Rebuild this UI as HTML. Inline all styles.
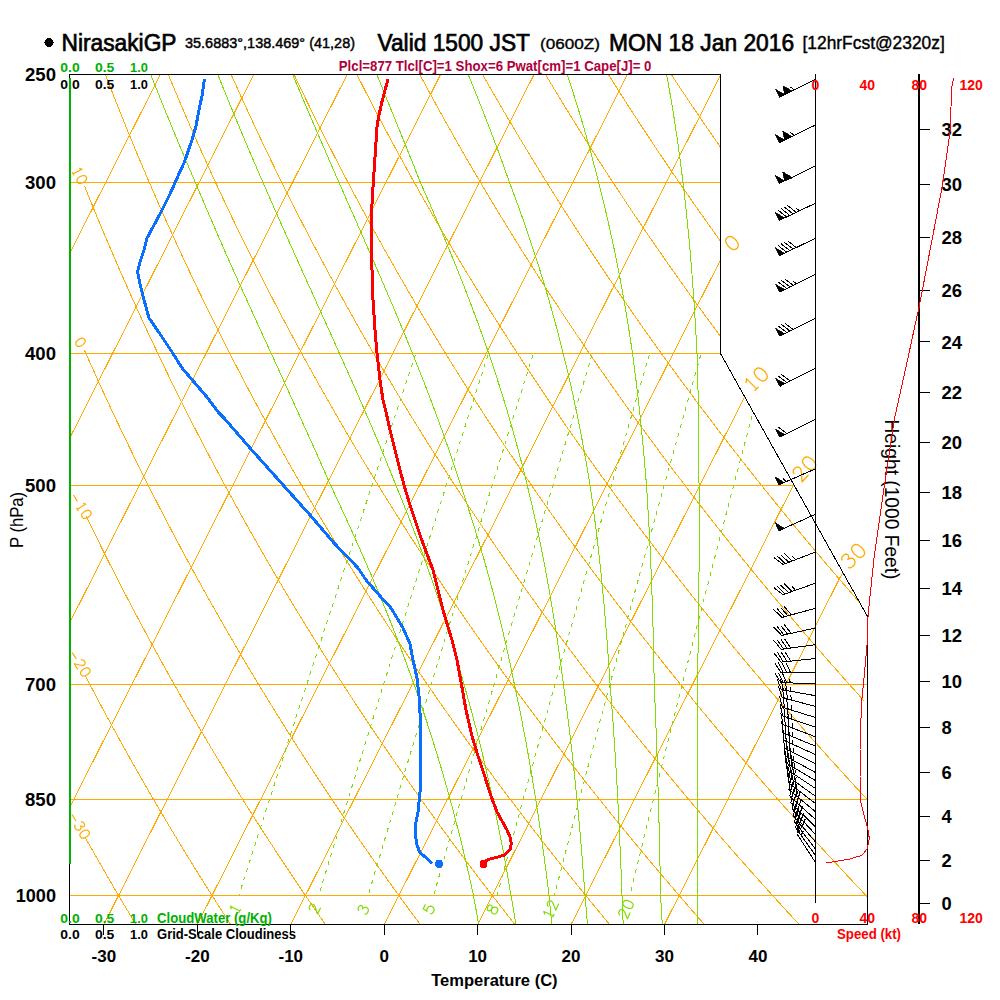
<!DOCTYPE html>
<html><head><meta charset="utf-8"><style>
html,body{margin:0;padding:0;background:#fff;}
svg{display:block;} path,circle{shape-rendering:crispEdges;}
text{font-family:"Liberation Sans",sans-serif;}
</style></head><body>
<svg width="1000" height="1000" viewBox="0 0 1000 1000">
<rect width="1000" height="1000" fill="#fff"/>
<defs><clipPath id="cp"><path d="M69.5 74.5 L720.5 74.5 L720.5 353.5 L867.5 616.5 L867.5 924.5 L69.5 924.5 Z"/></clipPath></defs>
<g clip-path="url(#cp)" fill="none" stroke-width="1">
<path d="M69.5 182.5 H900" stroke="#ffaa00"/>
<path d="M69.5 353.5 H900" stroke="#ffaa00"/>
<path d="M69.5 485.5 H900" stroke="#ffaa00"/>
<path d="M69.5 684.5 H900" stroke="#ffaa00"/>
<path d="M69.5 799.5 H900" stroke="#ffaa00"/>
<path d="M69.5 895.5 H900" stroke="#ffaa00"/>
<path d="M-736.96 924.5 L-306.86 74.5" stroke="#ffaa00"/>
<path d="M-643.53 924.5 L-213.43 74.5" stroke="#ffaa00"/>
<path d="M-550.1 924.5 L-120 74.5" stroke="#ffaa00"/>
<path d="M-456.67 924.5 L-26.57 74.5" stroke="#ffaa00"/>
<path d="M-363.24 924.5 L66.86 74.5" stroke="#ffaa00"/>
<path d="M-269.81 924.5 L160.29 74.5" stroke="#ffaa00"/>
<path d="M-176.38 924.5 L253.72 74.5" stroke="#ffaa00"/>
<path d="M-82.95 924.5 L347.15 74.5" stroke="#ffaa00"/>
<path d="M10.48 924.5 L440.58 74.5" stroke="#ffaa00"/>
<path d="M103.91 924.5 L534.01 74.5" stroke="#ffaa00"/>
<path d="M197.34 924.5 L627.44 74.5" stroke="#ffaa00"/>
<path d="M290.77 924.5 L720.87 74.5" stroke="#ffaa00"/>
<path d="M384.2 924.5 L814.3 74.5" stroke="#ffaa00"/>
<path d="M477.63 924.5 L907.73 74.5" stroke="#ffaa00"/>
<path d="M571.06 924.5 L1001.16 74.5" stroke="#ffaa00"/>
<path d="M664.49 924.5 L1094.59 74.5" stroke="#ffaa00"/>
<path d="M-148.32 924.5 L-155.02 910.09 L-161.62 895.69 L-168.13 881.28 L-174.54 866.87 L-180.85 852.47 L-187.07 838.06 L-193.2 823.65 L-199.23 809.25 L-205.17 794.84 L-211.02 780.43 L-216.78 766.03 L-222.45 751.62 L-228.03 737.21 L-233.52 722.81 L-238.92 708.4 L-244.23 693.99 L-249.46 679.58 L-254.6 665.18 L-259.65 650.77 L-264.62 636.36 L-269.5 621.96 L-274.3 607.55 L-279.01 593.14 L-283.64 578.74 L-288.19 564.33 L-292.66 549.92 L-297.04 535.52 L-301.35 521.11 L-305.57 506.7 L-309.72 492.3 L-313.78 477.89 L-317.77 463.48 L-321.68 449.08 L-325.51 434.67 L-329.26 420.26 L-332.94 405.86 L-336.54 391.45 L-340.07 377.04 L-343.52 362.64 L-346.9 348.23 L-350.2 333.82 L-353.43 319.42 L-356.59 305.01 L-359.67 290.6 L-362.68 276.19 L-365.62 261.79 L-368.49 247.38 L-371.29 232.97 L-374.02 218.57 L-376.68 204.16 L-379.28 189.75 L-381.8 175.35 L-384.25 160.94 L-386.64 146.53 L-388.96 132.13 L-391.22 117.72 L-393.4 103.31 L-395.53 88.91 L-397.58 74.5" stroke="#ffaa00"/>
<path d="M-53.58 924.5 L-60.93 910.09 L-68.18 895.69 L-75.33 881.28 L-82.39 866.87 L-89.34 852.47 L-96.19 838.06 L-102.95 823.65 L-109.61 809.25 L-116.17 794.84 L-122.64 780.43 L-129.01 766.03 L-135.28 751.62 L-141.47 737.21 L-147.56 722.81 L-153.55 708.4 L-159.46 693.99 L-165.27 679.58 L-170.99 665.18 L-176.62 650.77 L-182.17 636.36 L-187.62 621.96 L-192.98 607.55 L-198.26 593.14 L-203.45 578.74 L-208.56 564.33 L-213.58 549.92 L-218.51 535.52 L-223.36 521.11 L-228.12 506.7 L-232.8 492.3 L-237.4 477.89 L-241.92 463.48 L-246.35 449.08 L-250.7 434.67 L-254.98 420.26 L-259.17 405.86 L-263.28 391.45 L-267.31 377.04 L-271.27 362.64 L-275.15 348.23 L-278.95 333.82 L-282.67 319.42 L-286.32 305.01 L-289.89 290.6 L-293.38 276.19 L-296.8 261.79 L-300.15 247.38 L-303.42 232.97 L-306.62 218.57 L-309.75 204.16 L-312.81 189.75 L-315.79 175.35 L-318.7 160.94 L-321.54 146.53 L-324.32 132.13 L-327.02 117.72 L-329.65 103.31 L-332.21 88.91 L-334.71 74.5" stroke="#ffaa00"/>
<path d="M41.17 924.5 L33.16 910.09 L25.26 895.69 L17.46 881.28 L9.76 866.87 L2.17 852.47 L-5.32 838.06 L-12.7 823.65 L-19.99 809.25 L-27.17 794.84 L-34.25 780.43 L-41.23 766.03 L-48.12 751.62 L-54.91 737.21 L-61.59 722.81 L-68.19 708.4 L-74.68 693.99 L-81.08 679.58 L-87.39 665.18 L-93.6 650.77 L-99.72 636.36 L-105.74 621.96 L-111.67 607.55 L-117.51 593.14 L-123.26 578.74 L-128.92 564.33 L-134.49 549.92 L-139.97 535.52 L-145.37 521.11 L-150.67 506.7 L-155.89 492.3 L-161.02 477.89 L-166.06 463.48 L-171.02 449.08 L-175.9 434.67 L-180.69 420.26 L-185.39 405.86 L-190.02 391.45 L-194.56 377.04 L-199.02 362.64 L-203.4 348.23 L-207.69 333.82 L-211.91 319.42 L-216.05 305.01 L-220.1 290.6 L-224.08 276.19 L-227.98 261.79 L-231.81 247.38 L-235.55 232.97 L-239.22 218.57 L-242.82 204.16 L-246.34 189.75 L-249.78 175.35 L-253.15 160.94 L-256.45 146.53 L-259.67 132.13 L-262.82 117.72 L-265.9 103.31 L-268.9 88.91 L-271.84 74.5" stroke="#ffaa00"/>
<path d="M135.92 924.5 L127.25 910.09 L118.69 895.69 L110.25 881.28 L101.91 866.87 L93.68 852.47 L85.56 838.06 L85.25 837.5" stroke="#ffaa00"/>
<path d="M230.66 924.5 L221.34 910.09 L212.13 895.69 L203.04 881.28 L194.06 866.87 L185.19 852.47 L176.44 838.06 L167.79 823.65 L159.26 809.25 L150.83 794.84 L142.52 780.43 L134.31 766.03 L126.21 751.62 L118.22 737.21 L110.33 722.81 L102.55 708.4 L94.87 693.99 L87.29 679.58 L85.16 675.5" stroke="#ffaa00"/>
<path d="M325.41 924.5 L315.43 910.09 L305.57 895.69 L295.83 881.28 L286.21 866.87 L276.7 852.47 L267.31 838.06 L258.04 823.65 L248.88 809.25 L239.83 794.84 L230.9 780.43 L222.08 766.03 L213.37 751.62 L204.78 737.21 L196.29 722.81 L187.91 708.4 L179.64 693.99 L171.48 679.58 L163.43 665.18 L155.48 650.77 L147.64 636.36 L139.9 621.96 L132.26 607.55 L124.73 593.14 L117.31 578.74 L109.98 564.33 L102.75 549.92 L95.63 535.52 L88.61 521.11 L86.38 516.5" stroke="#ffaa00"/>
<path d="M420.16 924.5 L409.52 910.09 L399.01 895.69 L388.62 881.28 L378.36 866.87 L368.21 852.47 L358.19 838.06 L348.29 823.65 L338.5 809.25 L328.84 794.84 L319.29 780.43 L309.86 766.03 L300.54 751.62 L291.34 737.21 L282.25 722.81 L273.28 708.4 L264.42 693.99 L255.67 679.58 L247.03 665.18 L238.5 650.77 L230.09 636.36 L221.78 621.96 L213.58 607.55 L205.48 593.14 L197.49 578.74 L189.61 564.33 L181.84 549.92 L174.17 535.52 L166.6 521.11 L159.13 506.7 L151.77 492.3 L144.51 477.89 L137.35 463.48 L130.28 449.08 L123.32 434.67 L116.46 420.26 L109.7 405.86 L103.03 391.45 L96.46 377.04 L89.98 362.64 L84.38 350" stroke="#ffaa00"/>
<path d="M514.9 924.5 L503.61 910.09 L492.45 895.69 L481.41 881.28 L470.5 866.87 L459.72 852.47 L449.07 838.06 L438.53 823.65 L428.12 809.25 L417.84 794.84 L407.67 780.43 L397.63 766.03 L387.7 751.62 L377.9 737.21 L368.21 722.81 L358.64 708.4 L349.19 693.99 L339.86 679.58 L330.64 665.18 L321.53 650.77 L312.54 636.36 L303.66 621.96 L294.89 607.55 L286.23 593.14 L277.68 578.74 L269.25 564.33 L260.92 549.92 L252.7 535.52 L244.59 521.11 L236.58 506.7 L228.68 492.3 L220.89 477.89 L213.2 463.48 L205.61 449.08 L198.13 434.67 L190.75 420.26 L183.47 405.86 L176.29 391.45 L169.21 377.04 L162.23 362.64 L155.35 348.23 L148.57 333.82 L141.89 319.42 L135.3 305.01 L128.81 290.6 L122.41 276.19 L116.11 261.79 L109.91 247.38 L103.79 232.97 L97.77 218.57 L91.84 204.16 L86.01 189.75 L84.5 186" stroke="#ffaa00"/>
<path d="M609.65 924.5 L597.7 910.09 L585.89 895.69 L574.2 881.28 L562.65 866.87 L551.23 852.47 L539.94 838.06 L528.78 823.65 L517.75 809.25 L506.84 794.84 L496.06 780.43 L485.4 766.03 L474.87 751.62 L464.46 737.21 L454.17 722.81 L444.01 708.4 L433.97 693.99 L424.04 679.58 L414.24 665.18 L404.55 650.77 L394.99 636.36 L385.54 621.96 L376.2 607.55 L366.98 593.14 L357.87 578.74 L348.88 564.33 L340 549.92 L331.23 535.52 L322.58 521.11 L314.03 506.7 L305.6 492.3 L297.27 477.89 L289.05 463.48 L280.94 449.08 L272.93 434.67 L265.04 420.26 L257.24 405.86 L249.55 391.45 L241.97 377.04 L234.48 362.64 L227.1 348.23 L219.83 333.82 L212.65 319.42 L205.57 305.01 L198.59 290.6 L191.71 276.19 L184.93 261.79 L178.25 247.38 L171.66 232.97 L165.17 218.57 L158.78 204.16 L152.48 189.75 L146.27 175.35 L140.16 160.94 L134.14 146.53 L128.21 132.13 L122.37 117.72 L116.63 103.31 L110.97 88.91 L105.41 74.5" stroke="#ffaa00"/>
<path d="M704.39 924.5 L691.79 910.09 L679.32 895.69 L666.99 881.28 L654.8 866.87 L642.74 852.47 L630.82 838.06 L619.03 823.65 L607.37 809.25 L595.84 794.84 L584.44 780.43 L573.17 766.03 L562.03 751.62 L551.02 737.21 L540.14 722.81 L529.38 708.4 L518.74 693.99 L508.23 679.58 L497.84 665.18 L487.58 650.77 L477.44 636.36 L467.41 621.96 L457.51 607.55 L447.73 593.14 L438.06 578.74 L428.52 564.33 L419.09 549.92 L409.77 535.52 L400.57 521.11 L391.48 506.7 L382.51 492.3 L373.65 477.89 L364.9 463.48 L356.27 449.08 L347.74 434.67 L339.32 420.26 L331.01 405.86 L322.81 391.45 L314.72 377.04 L306.73 362.64 L298.85 348.23 L291.08 333.82 L283.41 319.42 L275.84 305.01 L268.38 290.6 L261.01 276.19 L253.75 261.79 L246.59 247.38 L239.53 232.97 L232.57 218.57 L225.71 204.16 L218.94 189.75 L212.28 175.35 L205.71 160.94 L199.23 146.53 L192.86 132.13 L186.57 117.72 L180.38 103.31 L174.28 88.91 L168.28 74.5" stroke="#ffaa00"/>
<path d="M799.14 924.5 L785.88 910.09 L772.76 895.69 L759.79 881.28 L746.95 866.87 L734.25 852.47 L721.69 838.06 L709.27 823.65 L696.99 809.25 L684.84 794.84 L672.83 780.43 L660.95 766.03 L649.2 751.62 L637.58 737.21 L626.1 722.81 L614.74 708.4 L603.52 693.99 L592.42 679.58 L581.45 665.18 L570.61 650.77 L559.89 636.36 L549.29 621.96 L538.82 607.55 L528.48 593.14 L518.25 578.74 L508.15 564.33 L498.17 549.92 L488.3 535.52 L478.56 521.11 L468.93 506.7 L459.43 492.3 L450.03 477.89 L440.76 463.48 L431.59 449.08 L422.55 434.67 L413.61 420.26 L404.79 405.86 L396.08 391.45 L387.48 377.04 L378.99 362.64 L370.6 348.23 L362.33 333.82 L354.17 319.42 L346.11 305.01 L338.16 290.6 L330.31 276.19 L322.57 261.79 L314.93 247.38 L307.4 232.97 L299.97 218.57 L292.64 204.16 L285.41 189.75 L278.29 175.35 L271.26 160.94 L264.33 146.53 L257.5 132.13 L250.77 117.72 L244.14 103.31 L237.6 88.91 L231.15 74.5" stroke="#ffaa00"/>
<path d="M893.89 924.5 L879.97 910.09 L866.2 895.69 L852.58 881.28 L839.1 866.87 L825.76 852.47 L812.57 838.06 L799.52 823.65 L786.61 809.25 L773.84 794.84 L761.21 780.43 L748.72 766.03 L736.36 751.62 L724.14 737.21 L712.06 722.81 L700.11 708.4 L688.29 693.99 L676.61 679.58 L665.05 665.18 L653.63 650.77 L642.34 636.36 L631.17 621.96 L620.14 607.55 L609.23 593.14 L598.44 578.74 L587.78 564.33 L577.25 549.92 L566.84 535.52 L556.55 521.11 L546.39 506.7 L536.34 492.3 L526.41 477.89 L516.61 463.48 L506.92 449.08 L497.35 434.67 L487.9 420.26 L478.56 405.86 L469.34 391.45 L460.23 377.04 L451.24 362.64 L442.35 348.23 L433.58 333.82 L424.93 319.42 L416.38 305.01 L407.94 290.6 L399.61 276.19 L391.39 261.79 L383.28 247.38 L375.27 232.97 L367.37 218.57 L359.57 204.16 L351.88 189.75 L344.29 175.35 L336.81 160.94 L329.43 146.53 L322.15 132.13 L314.97 117.72 L307.89 103.31 L300.91 88.91 L294.03 74.5" stroke="#ffaa00"/>
<path d="M988.63 924.5 L974.06 910.09 L959.64 895.69 L945.37 881.28 L931.25 866.87 L917.27 852.47 L903.45 838.06 L889.77 823.65 L876.23 809.25 L862.84 794.84 L849.6 780.43 L836.49 766.03 L823.53 751.62 L810.7 737.21 L798.02 722.81 L785.47 708.4 L773.07 693.99 L760.79 679.58 L748.66 665.18 L736.66 650.77 L724.79 636.36 L713.05 621.96 L701.45 607.55 L689.98 593.14 L678.63 578.74 L667.42 564.33 L656.33 549.92 L645.37 535.52 L634.54 521.11 L623.84 506.7 L613.25 492.3 L602.8 477.89 L592.46 463.48 L582.25 449.08 L572.16 434.67 L562.18 420.26 L552.33 405.86 L542.6 391.45 L532.98 377.04 L523.49 362.64 L514.1 348.23 L504.84 333.82 L495.69 319.42 L486.65 305.01 L477.72 290.6 L468.91 276.19 L460.21 261.79 L451.62 247.38 L443.14 232.97 L434.77 218.57 L426.51 204.16 L418.35 189.75 L410.3 175.35 L402.36 160.94 L394.53 146.53 L386.79 132.13 L379.17 117.72 L371.64 103.31 L364.22 88.91 L356.9 74.5" stroke="#ffaa00"/>
<path d="M863.97 700.8 L857.84 693.99 L844.98 679.58 L832.26 665.18 L819.68 650.77 L807.24 636.36 L794.93 621.96 L782.76 607.55 L770.72 593.14 L758.82 578.74 L747.05 564.33 L735.42 549.92 L723.91 535.52 L712.53 521.11 L701.29 506.7 L690.17 492.3 L679.18 477.89 L668.31 463.48 L657.57 449.08 L646.96 434.67 L636.47 420.26 L626.11 405.86 L615.86 391.45 L605.74 377.04 L595.74 362.64 L585.85 348.23 L576.09 333.82 L566.45 319.42 L556.92 305.01 L547.51 290.6 L538.21 276.19 L529.03 261.79 L519.96 247.38 L511.01 232.97 L502.17 218.57 L493.44 204.16 L484.82 189.75 L476.31 175.35 L467.91 160.94 L459.62 146.53 L451.44 132.13 L443.37 117.72 L435.4 103.31 L427.53 88.91 L419.78 74.5" stroke="#ffaa00"/>
<path d="M1178.13 924.5 L1162.24 910.09 L1146.52 895.69 L1130.95 881.28 L1115.54 866.87 L1100.29 852.47 L1085.2 838.06 L1070.26 823.65 L1055.48 809.25 L1040.85 794.84 L1026.37 780.43 L1012.04 766.03 L997.86 751.62 L983.83 737.21 L969.94 722.81 L956.21 708.4 L942.62 693.99 L929.17 679.58 L915.87 665.18 L902.71 650.77 L889.69 636.36 L876.81 621.96 L864.07 607.55 L851.47 593.14 L839.01 578.74 L826.69 564.33 L814.5 549.92 L802.44 535.52 L790.52 521.11 L778.74 506.7 L767.08 492.3 L755.56 477.89 L744.17 463.48 L732.9 449.08 L721.77 434.67 L710.76 420.26 L699.88 405.86 L689.12 391.45 L678.49 377.04 L667.99 362.64 L657.6 348.23 L647.34 333.82 L637.2 319.42 L627.19 305.01 L617.29 290.6 L607.51 276.19 L597.85 261.79 L588.31 247.38 L578.88 232.97 L569.57 218.57 L560.37 204.16 L551.29 189.75 L542.32 175.35 L533.46 160.94 L524.72 146.53 L516.09 132.13 L507.56 117.72 L499.15 103.31 L490.85 88.91 L482.65 74.5" stroke="#ffaa00"/>
<path d="M1272.87 924.5 L1256.33 910.09 L1239.95 895.69 L1223.74 881.28 L1207.69 866.87 L1191.8 852.47 L1176.08 838.06 L1160.51 823.65 L1145.1 809.25 L1129.85 794.84 L1114.75 780.43 L1099.81 766.03 L1085.02 751.62 L1070.39 737.21 L1055.9 722.81 L1041.57 708.4 L1027.39 693.99 L1013.36 679.58 L999.47 665.18 L985.73 650.77 L972.14 636.36 L958.69 621.96 L945.38 607.55 L932.22 593.14 L919.2 578.74 L906.32 564.33 L893.58 549.92 L880.98 535.52 L868.52 521.11 L856.19 506.7 L844 492.3 L831.94 477.89 L820.02 463.48 L808.23 449.08 L796.57 434.67 L785.05 420.26 L773.65 405.86 L762.38 391.45 L751.25 377.04 L740.24 362.64 L729.35 348.23 L718.6 333.82 L707.96 319.42 L697.46 305.01 L687.07 290.6 L676.81 276.19 L666.67 261.79 L656.65 247.38 L646.75 232.97 L636.97 218.57 L627.3 204.16 L617.76 189.75 L608.33 175.35 L599.02 160.94 L589.82 146.53 L580.73 132.13 L571.76 117.72 L562.91 103.31 L554.16 88.91 L545.52 74.5" stroke="#ffaa00"/>
<path d="M1367.62 924.5 L1350.42 910.09 L1333.39 895.69 L1316.53 881.28 L1299.84 866.87 L1283.31 852.47 L1266.95 838.06 L1250.76 823.65 L1234.72 809.25 L1218.85 794.84 L1203.13 780.43 L1187.58 766.03 L1172.19 751.62 L1156.95 737.21 L1141.87 722.81 L1126.94 708.4 L1112.16 693.99 L1097.54 679.58 L1083.08 665.18 L1068.76 650.77 L1054.59 636.36 L1040.57 621.96 L1026.7 607.55 L1012.97 593.14 L999.39 578.74 L985.96 564.33 L972.66 549.92 L959.51 535.52 L946.51 521.11 L933.64 506.7 L920.91 492.3 L908.32 477.89 L895.87 463.48 L883.56 449.08 L871.38 434.67 L859.33 420.26 L847.42 405.86 L835.65 391.45 L824 377.04 L812.49 362.64 L801.1 348.23 L789.85 333.82 L778.72 319.42 L767.73 305.01 L756.85 290.6 L746.11 276.19 L735.49 261.79 L724.99 247.38 L714.62 232.97 L704.37 218.57 L694.24 204.16 L684.23 189.75 L674.34 175.35 L664.57 160.94 L654.91 146.53 L645.38 132.13 L635.96 117.72 L626.66 103.31 L617.47 88.91 L608.4 74.5" stroke="#ffaa00"/>
<path d="M1462.37 924.5 L1444.51 910.09 L1426.83 895.69 L1409.32 881.28 L1391.99 866.87 L1374.82 852.47 L1357.83 838.06 L1341 823.65 L1324.34 809.25 L1307.85 794.84 L1291.52 780.43 L1275.35 766.03 L1259.35 751.62 L1243.51 737.21 L1227.83 722.81 L1212.3 708.4 L1196.94 693.99 L1181.73 679.58 L1166.68 665.18 L1151.78 650.77 L1137.04 636.36 L1122.45 621.96 L1108.01 607.55 L1093.72 593.14 L1079.58 578.74 L1065.59 564.33 L1051.75 549.92 L1038.05 535.52 L1024.5 521.11 L1011.09 506.7 L997.83 492.3 L984.7 477.89 L971.72 463.48 L958.88 449.08 L946.18 434.67 L933.62 420.26 L921.2 405.86 L908.91 391.45 L896.76 377.04 L884.74 362.64 L872.85 348.23 L861.1 333.82 L849.48 319.42 L838 305.01 L826.64 290.6 L815.41 276.19 L804.31 261.79 L793.33 247.38 L782.49 232.97 L771.76 218.57 L761.17 204.16 L750.7 189.75 L740.35 175.35 L730.12 160.94 L720.01 146.53 L710.03 132.13 L700.16 117.72 L690.41 103.31 L680.78 88.91 L671.27 74.5" stroke="#ffaa00"/>
<path d="M1557.11 924.5 L1538.6 910.09 L1520.27 895.69 L1502.12 881.28 L1484.14 866.87 L1466.34 852.47 L1448.71 838.06 L1431.25 823.65 L1413.96 809.25 L1396.85 794.84 L1379.9 780.43 L1363.13 766.03 L1346.51 751.62 L1330.07 737.21 L1313.79 722.81 L1297.67 708.4 L1281.71 693.99 L1265.92 679.58 L1250.28 665.18 L1234.81 650.77 L1219.49 636.36 L1204.33 621.96 L1189.32 607.55 L1174.47 593.14 L1159.77 578.74 L1145.22 564.33 L1130.83 549.92 L1116.58 535.52 L1102.49 521.11 L1088.54 506.7 L1074.74 492.3 L1061.09 477.89 L1047.58 463.48 L1034.21 449.08 L1020.99 434.67 L1007.91 420.26 L994.97 405.86 L982.17 391.45 L969.51 377.04 L956.99 362.64 L944.6 348.23 L932.36 333.82 L920.24 319.42 L908.26 305.01 L896.42 290.6 L884.71 276.19 L873.13 261.79 L861.68 247.38 L850.36 232.97 L839.16 218.57 L828.1 204.16 L817.16 189.75 L806.35 175.35 L795.67 160.94 L785.11 146.53 L774.67 132.13 L764.36 117.72 L754.17 103.31 L744.1 88.91 L734.15 74.5" stroke="#ffaa00"/>
<path d="M1651.86 924.5 L1632.69 910.09 L1613.71 895.69 L1594.91 881.28 L1576.29 866.87 L1557.85 852.47 L1539.58 838.06 L1521.5 823.65 L1503.59 809.25 L1485.85 794.84 L1468.29 780.43 L1450.9 766.03 L1433.68 751.62 L1416.63 737.21 L1399.75 722.81 L1383.04 708.4 L1366.49 693.99 L1350.11 679.58 L1333.89 665.18 L1317.83 650.77 L1301.94 636.36 L1286.21 621.96 L1270.63 607.55 L1255.22 593.14 L1239.96 578.74 L1224.86 564.33 L1209.91 549.92 L1195.12 535.52 L1180.48 521.11 L1165.99 506.7 L1151.65 492.3 L1137.47 477.89 L1123.43 463.48 L1109.54 449.08 L1095.79 434.67 L1082.2 420.26 L1068.74 405.86 L1055.43 391.45 L1042.26 377.04 L1029.24 362.64 L1016.35 348.23 L1003.61 333.82 L991 319.42 L978.53 305.01 L966.2 290.6 L954.01 276.19 L941.95 261.79 L930.02 247.38 L918.23 232.97 L906.56 218.57 L895.03 204.16 L883.63 189.75 L872.36 175.35 L861.22 160.94 L850.21 146.53 L839.32 132.13 L828.56 117.72 L817.92 103.31 L807.41 88.91 L797.02 74.5" stroke="#ffaa00"/>
<path d="M1746.6 924.5 L1726.78 910.09 L1707.15 895.69 L1687.7 881.28 L1668.44 866.87 L1649.36 852.47 L1630.46 838.06 L1611.74 823.65 L1593.21 809.25 L1574.85 794.84 L1556.67 780.43 L1538.67 766.03 L1520.84 751.62 L1503.19 737.21 L1485.71 722.81 L1468.4 708.4 L1451.26 693.99 L1434.29 679.58 L1417.49 665.18 L1400.86 650.77 L1384.39 636.36 L1368.09 621.96 L1351.95 607.55 L1335.97 593.14 L1320.15 578.74 L1304.49 564.33 L1288.99 549.92 L1273.65 535.52 L1258.47 521.11 L1243.44 506.7 L1228.57 492.3 L1213.85 477.89 L1199.28 463.48 L1184.86 449.08 L1170.6 434.67 L1156.48 420.26 L1142.51 405.86 L1128.69 391.45 L1115.02 377.04 L1101.49 362.64 L1088.1 348.23 L1074.86 333.82 L1061.76 319.42 L1048.8 305.01 L1035.98 290.6 L1023.31 276.19 L1010.76 261.79 L998.36 247.38 L986.09 232.97 L973.96 218.57 L961.97 204.16 L950.1 189.75 L938.37 175.35 L926.77 160.94 L915.3 146.53 L903.97 132.13 L892.76 117.72 L881.67 103.31 L870.72 88.91 L859.89 74.5" stroke="#ffaa00"/>
<path d="M1841.35 924.5 L1820.87 910.09 L1800.59 895.69 L1780.49 881.28 L1760.58 866.87 L1740.87 852.47 L1721.34 838.06 L1701.99 823.65 L1682.83 809.25 L1663.85 794.84 L1645.06 780.43 L1626.44 766.03 L1608.01 751.62 L1589.75 737.21 L1571.67 722.81 L1553.77 708.4 L1536.04 693.99 L1518.48 679.58 L1501.1 665.18 L1483.88 650.77 L1466.84 636.36 L1449.96 621.96 L1433.26 607.55 L1416.72 593.14 L1400.34 578.74 L1384.13 564.33 L1368.08 549.92 L1352.19 535.52 L1336.46 521.11 L1320.89 506.7 L1305.48 492.3 L1290.23 477.89 L1275.13 463.48 L1260.19 449.08 L1245.4 434.67 L1230.77 420.26 L1216.29 405.86 L1201.96 391.45 L1187.77 377.04 L1173.74 362.64 L1159.85 348.23 L1146.12 333.82 L1132.52 319.42 L1119.07 305.01 L1105.77 290.6 L1092.61 276.19 L1079.58 261.79 L1066.7 247.38 L1053.96 232.97 L1041.36 218.57 L1028.9 204.16 L1016.57 189.75 L1004.38 175.35 L992.32 160.94 L980.4 146.53 L968.61 132.13 L956.95 117.72 L945.43 103.31 L934.03 88.91 L922.77 74.5" stroke="#ffaa00"/>
<path d="M1936.1 924.5 L1914.96 910.09 L1894.02 895.69 L1873.28 881.28 L1852.73 866.87 L1832.38 852.47 L1812.21 838.06 L1792.24 823.65 L1772.45 809.25 L1752.85 794.84 L1733.44 780.43 L1714.22 766.03 L1695.17 751.62 L1676.31 737.21 L1657.63 722.81 L1639.13 708.4 L1620.81 693.99 L1602.67 679.58 L1584.7 665.18 L1566.91 650.77 L1549.29 636.36 L1531.84 621.96 L1514.57 607.55 L1497.46 593.14 L1480.53 578.74 L1463.76 564.33 L1447.16 549.92 L1430.72 535.52 L1414.45 521.11 L1398.34 506.7 L1382.4 492.3 L1366.61 477.89 L1350.99 463.48 L1335.52 449.08 L1320.21 434.67 L1305.06 420.26 L1290.06 405.86 L1275.22 391.45 L1260.53 377.04 L1245.99 362.64 L1231.6 348.23 L1217.37 333.82 L1203.28 319.42 L1189.34 305.01 L1175.55 290.6 L1161.9 276.19 L1148.4 261.79 L1135.05 247.38 L1121.83 232.97 L1108.76 218.57 L1095.83 204.16 L1083.04 189.75 L1070.39 175.35 L1057.87 160.94 L1045.5 146.53 L1033.26 132.13 L1021.15 117.72 L1009.18 103.31 L997.35 88.91 L985.64 74.5" stroke="#ffaa00"/>
<path d="M2030.84 924.5 L2009.05 910.09 L1987.46 895.69 L1966.07 881.28 L1944.88 866.87 L1923.89 852.47 L1903.09 838.06 L1882.48 823.65 L1862.07 809.25 L1841.86 794.84 L1821.83 780.43 L1801.99 766.03 L1782.34 751.62 L1762.87 737.21 L1743.59 722.81 L1724.5 708.4 L1705.59 693.99 L1686.86 679.58 L1668.31 665.18 L1649.93 650.77 L1631.74 636.36 L1613.72 621.96 L1595.88 607.55 L1578.21 593.14 L1560.72 578.74 L1543.39 564.33 L1526.24 549.92 L1509.26 535.52 L1492.44 521.11 L1475.79 506.7 L1459.31 492.3 L1442.99 477.89 L1426.84 463.48 L1410.85 449.08 L1395.02 434.67 L1379.34 420.26 L1363.83 405.86 L1348.48 391.45 L1333.28 377.04 L1318.24 362.64 L1303.35 348.23 L1288.62 333.82 L1274.04 319.42 L1259.61 305.01 L1245.33 290.6 L1231.2 276.19 L1217.22 261.79 L1203.39 247.38 L1189.7 232.97 L1176.16 218.57 L1162.76 204.16 L1149.51 189.75 L1136.4 175.35 L1123.43 160.94 L1110.6 146.53 L1097.9 132.13 L1085.35 117.72 L1072.94 103.31 L1060.66 88.91 L1048.51 74.5" stroke="#ffaa00"/>
<path d="M2125.59 924.5 L2103.14 910.09 L2080.9 895.69 L2058.86 881.28 L2037.03 866.87 L2015.4 852.47 L1993.96 838.06 L1972.73 823.65 L1951.7 809.25 L1930.86 794.84 L1910.21 780.43 L1889.76 766.03 L1869.5 751.62 L1849.43 737.21 L1829.56 722.81 L1809.87 708.4 L1790.36 693.99 L1771.04 679.58 L1751.91 665.18 L1732.96 650.77 L1714.19 636.36 L1695.6 621.96 L1677.19 607.55 L1658.96 593.14 L1640.91 578.74 L1623.03 564.33 L1605.32 549.92 L1587.79 535.52 L1570.43 521.11 L1553.24 506.7 L1536.23 492.3 L1519.37 477.89 L1502.69 463.48 L1486.17 449.08 L1469.82 434.67 L1453.63 420.26 L1437.61 405.86 L1421.74 391.45 L1406.04 377.04 L1390.49 362.64 L1375.1 348.23 L1359.87 333.82 L1344.8 319.42 L1329.88 305.01 L1315.12 290.6 L1300.5 276.19 L1286.04 261.79 L1271.73 247.38 L1257.57 232.97 L1243.56 218.57 L1229.7 204.16 L1215.98 189.75 L1202.41 175.35 L1188.98 160.94 L1175.69 146.53 L1162.55 132.13 L1149.55 117.72 L1136.69 103.31 L1123.97 88.91 L1111.39 74.5" stroke="#ffaa00"/>
<path d="M2220.34 924.5 L2197.23 910.09 L2174.34 895.69 L2151.65 881.28 L2129.18 866.87 L2106.91 852.47 L2084.84 838.06 L2062.98 823.65 L2041.32 809.25 L2019.86 794.84 L1998.6 780.43 L1977.53 766.03 L1956.67 751.62 L1936 737.21 L1915.52 722.81 L1895.23 708.4 L1875.14 693.99 L1855.23 679.58 L1835.51 665.18 L1815.99 650.77 L1796.64 636.36 L1777.48 621.96 L1758.51 607.55 L1739.71 593.14 L1721.1 578.74 L1702.66 564.33 L1684.41 549.92 L1666.33 535.52 L1648.42 521.11 L1630.7 506.7 L1613.14 492.3 L1595.76 477.89 L1578.54 463.48 L1561.5 449.08 L1544.63 434.67 L1527.92 420.26 L1511.38 405.86 L1495 391.45 L1478.79 377.04 L1462.74 362.64 L1446.85 348.23 L1431.13 333.82 L1415.56 319.42 L1400.15 305.01 L1384.9 290.6 L1369.8 276.19 L1354.86 261.79 L1340.08 247.38 L1325.44 232.97 L1310.96 218.57 L1296.63 204.16 L1282.45 189.75 L1268.41 175.35 L1254.53 160.94 L1240.79 146.53 L1227.2 132.13 L1213.75 117.72 L1200.44 103.31 L1187.28 88.91 L1174.26 74.5" stroke="#ffaa00"/>
<path d="M478.6 924.5 L476.76 913.74 L474.86 902.98 L472.79 892.22 L470.42 881.46 L467.99 870.7 L465.49 859.94 L462.93 849.18 L460.29 838.42 L457.58 827.66 L454.79 816.91 L451.94 806.15 L449 795.39 L445.99 784.63 L442.9 773.87 L439.72 763.11 L436.47 752.35 L433.13 741.59 L429.71 730.83 L426.2 720.07 L422.61 709.31 L418.93 698.55 L415.17 687.79 L411.35 677.03 L407.47 666.27 L403.5 655.51 L399.45 644.75 L395.31 633.99 L391.09 623.23 L386.78 612.47 L382.4 601.72 L377.94 590.96 L373.41 580.2 L368.8 569.44 L364.12 558.68 L359.37 547.92 L354.56 537.16 L349.69 526.4 L344.77 515.64 L339.79 504.88 L334.76 494.12 L329.76 483.36 L325.03 472.6 L320.26 461.84 L315.46 451.08 L310.64 440.32 L305.79 429.56 L300.93 418.8 L296.05 408.04 L291.16 397.28 L286.26 386.53 L281.37 375.77 L276.48 365.01 L271.59 354.25 L266.63 343.49 L261.69 332.73 L256.76 321.97 L251.85 311.21 L246.95 300.45 L242.09 289.69 L237.25 278.93 L232.44 268.17 L227.66 257.41 L222.92 246.65 L218.21 235.89 L213.54 225.13 L208.9 214.37 L204.3 203.61 L199.75 192.85 L195.22 182.09 L190.58 171.34 L185.98 160.58 L181.42 149.82 L176.91 139.06 L172.45 128.3 L168.02 117.54 L163.65 106.78 L159.32 96.02 L155.04 85.26 L150.8 74.5" stroke="#80dc00"/>
<path d="M516 924.5 L514.19 913.74 L512.32 902.98 L510.45 892.22 L508.62 881.46 L506.73 870.7 L504.79 859.94 L502.79 849.18 L500.73 838.42 L498.62 827.66 L496.44 816.91 L494.2 806.15 L491.9 795.39 L489.53 784.63 L487.09 773.87 L484.58 763.11 L482.01 752.35 L479.35 741.59 L476.63 730.83 L473.83 720.07 L470.95 709.31 L467.99 698.55 L464.95 687.79 L461.97 677.03 L458.99 666.27 L455.92 655.51 L452.76 644.75 L449.51 633.99 L446.18 623.23 L442.77 612.47 L439.26 601.72 L435.67 590.96 L431.99 580.2 L428.23 569.44 L424.37 558.68 L420.44 547.92 L416.42 537.16 L412.31 526.4 L408.13 515.64 L403.87 504.88 L399.53 494.12 L395.15 483.36 L390.84 472.6 L386.46 461.84 L382.02 451.08 L377.52 440.32 L372.96 429.56 L368.35 418.8 L363.69 408.04 L358.99 397.28 L354.25 386.53 L349.47 375.77 L344.67 365.01 L339.84 354.25 L335.01 343.49 L330.17 332.73 L325.32 321.97 L320.46 311.21 L315.59 300.45 L310.73 289.69 L305.87 278.93 L301.01 268.17 L296.17 257.41 L291.34 246.65 L286.53 235.89 L281.74 225.13 L276.97 214.37 L272.23 203.61 L267.51 192.85 L262.82 182.09 L258.15 171.34 L253.52 160.58 L248.91 149.82 L244.35 139.06 L239.82 128.3 L235.33 117.54 L230.89 106.78 L226.48 96.02 L222.12 85.26 L217.8 74.5" stroke="#80dc00"/>
<path d="M551.8 924.5 L550.79 913.74 L549.75 902.98 L548.6 892.22 L547.28 881.46 L545.91 870.7 L544.5 859.94 L543.05 849.18 L541.55 838.42 L540.01 827.66 L538.42 816.91 L536.79 806.15 L535.1 795.39 L533.36 784.63 L531.57 773.87 L529.72 763.11 L527.82 752.35 L525.86 741.59 L523.83 730.83 L521.75 720.07 L519.6 709.31 L517.39 698.55 L515.11 687.79 L512.87 677.03 L510.62 666.27 L508.29 655.51 L505.88 644.75 L503.4 633.99 L500.84 623.23 L498.21 612.47 L495.49 601.72 L492.69 590.96 L489.81 580.2 L486.84 569.44 L483.79 558.68 L480.65 547.92 L477.42 537.16 L474.11 526.4 L470.71 515.64 L467.21 504.88 L463.63 494.12 L460.02 483.36 L456.53 472.6 L452.96 461.84 L449.3 451.08 L445.56 440.32 L441.73 429.56 L437.82 418.8 L433.83 408.04 L429.77 397.28 L425.63 386.53 L421.42 375.77 L417.14 365.01 L412.8 354.25 L408.44 343.49 L404.03 332.73 L399.57 321.97 L395.05 311.21 L390.5 300.45 L385.9 289.69 L381.27 278.93 L376.62 268.17 L371.93 257.41 L367.23 246.65 L362.51 235.89 L357.78 225.13 L353.04 214.37 L348.3 203.61 L343.56 192.85 L338.82 182.09 L334.12 171.34 L329.44 160.58 L324.76 149.82 L320.11 139.06 L315.47 128.3 L310.86 117.54 L306.28 106.78 L301.72 96.02 L297.2 85.26 L292.7 74.5" stroke="#80dc00"/>
<path d="M587.5 924.5 L586.59 913.74 L585.66 902.98 L584.77 892.22 L583.98 881.46 L583.16 870.7 L582.32 859.94 L581.44 849.18 L580.54 838.42 L579.6 827.66 L578.63 816.91 L577.62 806.15 L576.58 795.39 L575.49 784.63 L574.37 773.87 L573.22 763.11 L572.01 752.35 L570.77 741.59 L569.48 730.83 L568.15 720.07 L566.77 709.31 L565.34 698.55 L563.86 687.79 L562.44 677.03 L561 666.27 L559.51 655.51 L557.97 644.75 L556.36 633.99 L554.7 623.23 L552.97 612.47 L551.18 601.72 L549.33 590.96 L547.41 580.2 L545.41 569.44 L543.35 558.68 L541.21 547.92 L539.01 537.16 L536.72 526.4 L534.35 515.64 L531.91 504.88 L529.38 494.12 L526.78 483.36 L524.12 472.6 L521.37 461.84 L518.54 451.08 L515.61 440.32 L512.6 429.56 L509.5 418.8 L506.31 408.04 L503.03 397.28 L499.66 386.53 L496.2 375.77 L492.65 365.01 L489 354.25 L485.27 343.49 L481.45 332.73 L477.54 321.97 L473.55 311.21 L469.47 300.45 L465.32 289.69 L461.09 278.93 L456.79 268.17 L452.42 257.41 L447.99 246.65 L443.49 235.89 L438.93 225.13 L434.32 214.37 L429.67 203.61 L424.96 192.85 L420.24 182.09 L415.98 171.34 L411.69 160.58 L407.37 149.82 L403.03 139.06 L398.68 128.3 L394.31 117.54 L389.93 106.78 L385.55 96.02 L381.17 85.26 L376.8 74.5" stroke="#80dc00"/>
<path d="M623.2 924.5 L622.77 913.74 L622.32 902.98 L621.88 892.22 L621.48 881.46 L621.07 870.7 L620.63 859.94 L620.17 849.18 L619.69 838.42 L619.2 827.66 L618.68 816.91 L618.13 806.15 L617.56 795.39 L616.97 784.63 L616.35 773.87 L615.71 763.11 L615.04 752.35 L614.34 741.59 L613.61 730.83 L612.85 720.07 L612.05 709.31 L611.23 698.55 L610.37 687.79 L609.62 677.03 L608.91 666.27 L608.15 655.51 L607.36 644.75 L606.53 633.99 L605.65 623.23 L604.73 612.47 L603.77 601.72 L602.76 590.96 L601.7 580.2 L600.6 569.44 L599.44 558.68 L598.23 547.92 L596.97 537.16 L595.65 526.4 L594.27 515.64 L592.84 504.88 L591.34 494.12 L589.75 483.36 L587.96 472.6 L586.1 461.84 L584.17 451.08 L582.17 440.32 L580.1 429.56 L577.95 418.8 L575.73 408.04 L573.44 397.28 L571.06 386.53 L568.6 375.77 L566.06 365.01 L563.43 354.25 L560.73 343.49 L557.94 332.73 L555.06 321.97 L552.09 311.21 L549.03 300.45 L545.88 289.69 L542.63 278.93 L539.3 268.17 L535.87 257.41 L532.35 246.65 L528.74 235.89 L525.04 225.13 L521.25 214.37 L517.37 203.61 L513.4 192.85 L509.36 182.09 L505.56 171.34 L501.68 160.58 L497.73 149.82 L493.7 139.06 L489.6 128.3 L485.44 117.54 L481.21 106.78 L476.92 96.02 L472.59 85.26 L468.2 74.5" stroke="#80dc00"/>
<path d="M662.3 924.5 L661.68 913.74 L661.04 902.98 L660.54 892.22 L660.33 881.46 L660.12 870.7 L659.89 859.94 L659.66 849.18 L659.41 838.42 L659.15 827.66 L658.87 816.91 L658.58 806.15 L658.28 795.39 L657.96 784.63 L657.63 773.87 L657.28 763.11 L656.92 752.35 L656.54 741.59 L656.14 730.83 L655.72 720.07 L655.28 709.31 L654.83 698.55 L654.35 687.79 L654.08 677.03 L653.89 666.27 L653.68 655.51 L653.45 644.75 L653.19 633.99 L652.9 623.23 L652.59 612.47 L652.24 601.72 L651.87 590.96 L651.48 580.2 L651.04 569.44 L650.58 558.68 L650.09 547.92 L649.56 537.16 L648.99 526.4 L648.39 515.64 L647.75 504.88 L647.07 494.12 L646.33 483.36 L645.45 472.6 L644.53 461.84 L643.57 451.08 L642.56 440.32 L641.5 429.56 L640.39 418.8 L639.23 408.04 L638.02 397.28 L636.75 386.53 L635.43 375.77 L634.04 365.01 L632.6 354.25 L631.02 343.49 L629.37 332.73 L627.65 321.97 L625.86 311.21 L624.01 300.45 L622.09 289.69 L620.09 278.93 L618.01 268.17 L615.86 257.41 L613.63 246.65 L611.32 235.89 L608.93 225.13 L606.45 214.37 L603.89 203.61 L601.24 192.85 L598.5 182.09 L595.79 171.34 L592.98 160.58 L590.09 149.82 L587.1 139.06 L584.02 128.3 L580.85 117.54 L577.57 106.78 L574.2 96.02 L570.75 85.26 L567.2 74.5" stroke="#80dc00"/>
<path d="M698 924.5 L697.63 913.74 L697.26 902.98 L697.02 892.22 L697.1 881.46 L697.17 870.7 L697.24 859.94 L697.3 849.18 L697.36 838.42 L697.41 827.66 L697.46 816.91 L697.5 806.15 L697.53 795.39 L697.56 784.63 L697.58 773.87 L697.59 763.11 L697.59 752.35 L697.59 741.59 L697.57 730.83 L697.55 720.07 L697.52 709.31 L697.47 698.55 L697.42 687.79 L697.55 677.03 L697.76 666.27 L697.96 655.51 L698.15 644.75 L698.32 633.99 L698.48 623.23 L698.62 612.47 L698.75 601.72 L698.86 590.96 L698.96 580.2 L699.04 569.44 L699.1 558.68 L699.14 547.92 L699.17 537.16 L699.17 526.4 L699.16 515.64 L699.12 504.88 L699.06 494.12 L699 483.36 L698.99 472.6 L698.95 461.84 L698.89 451.08 L698.8 440.32 L698.69 429.56 L698.54 418.8 L698.37 408.04 L698.17 397.28 L697.93 386.53 L697.66 375.77 L697.36 365.01 L697.02 354.25 L696.49 343.49 L695.9 332.73 L695.28 321.97 L694.61 311.21 L693.91 300.45 L693.16 289.69 L692.36 278.93 L691.52 268.17 L690.63 257.41 L689.7 246.65 L688.71 235.89 L687.67 225.13 L686.58 214.37 L685.43 203.61 L684.22 192.85 L682.95 182.09 L681.63 171.34 L680.23 160.58 L678.78 149.82 L677.26 139.06 L675.66 128.3 L674.01 117.54 L672.27 106.78 L670.45 96.02 L668.56 85.26 L666.6 74.5" stroke="#80dc00"/>
<path d="M415.47 354.87 L409.44 372.89 L403.42 390.91 L397.4 408.94 L391.4 426.96 L385.41 444.98 L379.42 463 L373.45 481.02 L367.49 499.04 L361.53 517.06 L355.59 535.08 L349.65 553.1 L343.73 571.12 L337.82 589.14 L331.91 607.17 L326.02 625.19 L320.13 643.21 L314.26 661.23 L308.39 679.25 L302.54 697.27 L296.7 715.29 L290.86 733.31 L285.04 751.33 L279.23 769.35 L273.43 787.37 L267.64 805.4 L261.85 823.42 L256.08 841.44 L250.32 859.46 L244.58 877.48 L238.84 895.5" stroke="#80dc00" stroke-dasharray="4 5"/>
<path d="M488.05 354.87 L482.24 372.89 L476.45 390.91 L470.66 408.94 L464.89 426.96 L459.13 444.98 L453.38 463 L447.64 481.02 L441.91 499.04 L436.19 517.06 L430.48 535.08 L424.78 553.1 L419.1 571.12 L413.42 589.14 L407.76 607.17 L402.1 625.19 L396.46 643.21 L390.83 661.23 L385.21 679.25 L379.61 697.27 L374.01 715.29 L368.43 733.31 L362.85 751.33 L357.29 769.35 L351.74 787.37 L346.2 805.4 L340.68 823.42 L335.16 841.44 L329.66 859.46 L324.17 877.48 L318.69 895.5" stroke="#80dc00" stroke-dasharray="4 5"/>
<path d="M532.9 354.87 L527.24 372.89 L521.59 390.91 L515.95 408.94 L510.32 426.96 L504.71 444.98 L499.1 463 L493.51 481.02 L487.93 499.04 L482.36 517.06 L476.8 535.08 L471.26 553.1 L465.72 571.12 L460.2 589.14 L454.69 607.17 L449.19 625.19 L443.7 643.21 L438.23 661.23 L432.76 679.25 L427.31 697.27 L421.88 715.29 L416.45 733.31 L411.04 751.33 L405.64 769.35 L400.25 787.37 L394.87 805.4 L389.51 823.42 L384.16 841.44 L378.82 859.46 L373.49 877.48 L368.18 895.5" stroke="#80dc00" stroke-dasharray="4 5"/>
<path d="M592.08 354.87 L586.62 372.89 L581.16 390.91 L575.72 408.94 L570.29 426.96 L564.87 444.98 L559.47 463 L554.07 481.02 L548.69 499.04 L543.33 517.06 L537.97 535.08 L532.63 553.1 L527.3 571.12 L521.99 589.14 L516.68 607.17 L511.39 625.19 L506.11 643.21 L500.85 661.23 L495.6 679.25 L490.36 697.27 L485.14 715.29 L479.93 733.31 L474.73 751.33 L469.55 769.35 L464.38 787.37 L459.22 805.4 L454.08 823.42 L448.95 841.44 L443.83 859.46 L438.73 877.48 L433.64 895.5" stroke="#80dc00" stroke-dasharray="4 5"/>
<path d="M649.28 354.87 L644 372.89 L638.74 390.91 L633.5 408.94 L628.26 426.96 L623.04 444.98 L617.83 463 L612.64 481.02 L607.46 499.04 L602.3 517.06 L597.14 535.08 L592 553.1 L586.88 571.12 L581.77 589.14 L576.67 607.17 L571.59 625.19 L566.52 643.21 L561.46 661.23 L556.42 679.25 L551.4 697.27 L546.39 715.29 L541.39 733.31 L536.41 751.33 L531.44 769.35 L526.49 787.37 L521.55 805.4 L516.63 823.42 L511.72 841.44 L506.82 859.46 L501.95 877.48 L497.08 895.5" stroke="#80dc00" stroke-dasharray="4 5"/>
<path d="M700.78 354.87 L695.68 372.89 L690.6 390.91 L685.53 408.94 L680.48 426.96 L675.44 444.98 L670.42 463 L665.41 481.02 L660.41 499.04 L655.43 517.06 L650.47 535.08 L645.51 553.1 L640.58 571.12 L635.66 589.14 L630.75 607.17 L625.86 625.19 L620.98 643.21 L616.12 661.23 L611.28 679.25 L606.45 697.27 L601.63 715.29 L596.83 733.31 L592.05 751.33 L587.28 769.35 L582.53 787.37 L577.79 805.4 L573.07 823.42 L568.37 841.44 L563.68 859.46 L559.01 877.48 L554.35 895.5" stroke="#80dc00" stroke-dasharray="4 5"/>
<path d="M768.47 354.87 L763.62 372.89 L758.78 390.91 L753.95 408.94 L749.14 426.96 L744.35 444.98 L739.57 463 L734.81 481.02 L730.07 499.04 L725.34 517.06 L720.62 535.08 L715.92 553.1 L711.24 571.12 L706.58 589.14 L701.93 607.17 L697.3 625.19 L692.68 643.21 L688.08 661.23 L683.5 679.25 L678.93 697.27 L674.38 715.29 L669.85 733.31 L665.34 751.33 L660.84 769.35 L656.36 787.37 L651.9 805.4 L647.45 823.42 L643.03 841.44 L638.62 859.46 L634.23 877.48 L629.85 895.5" stroke="#80dc00" stroke-dasharray="4 5"/>
</g>
<path d="M69.5 74.5 H720.5 V353.5 L867.5 616.5 V924.5 H69.5 Z" fill="none" stroke="#000" stroke-width="1"/>
<path d="M103.5 924 V935" stroke="#000" stroke-width="1"/>
<path d="M197.5 924 V935" stroke="#000" stroke-width="1"/>
<path d="M290.5 924 V935" stroke="#000" stroke-width="1"/>
<path d="M384.5 924 V935" stroke="#000" stroke-width="1"/>
<path d="M477.5 924 V935" stroke="#000" stroke-width="1"/>
<path d="M571.5 924 V935" stroke="#000" stroke-width="1"/>
<path d="M664.5 924 V935" stroke="#000" stroke-width="1"/>
<path d="M757.5 924 V935" stroke="#000" stroke-width="1"/>
<path d="M726.64 238.07 L725.56 239.97 L725.92 242.44 L727.72 245.46 L729.10 247.00 L731.92 249.11 L734.34 249.72 L736.34 248.85 L737.36 247.93 L738.44 246.03 L738.08 243.56 L736.28 240.54 L734.90 239.00 L732.08 236.89 L729.66 236.28 L727.66 237.15 L726.64 238.07 M745.86 382.99 L746.35 381.53 L746.35 378.60 L756.60 388.85 M754.65 390.81 L758.55 386.90 M755.14 369.81 L754.16 371.76 L754.65 374.21 L756.60 377.14 L758.06 378.60 L760.99 380.55 L763.44 381.04 L765.39 380.06 L766.36 379.09 L767.34 377.14 L766.85 374.69 L764.90 371.76 L763.44 370.30 L760.51 368.35 L758.06 367.86 L756.11 368.84 L755.14 369.81 M794.29 474.07 L793.77 473.61 L793.21 472.17 L793.16 471.19 L793.57 469.71 L795.42 467.65 L796.85 467.09 L797.83 467.04 L799.32 467.45 L800.34 468.37 L800.91 469.81 L801.52 472.22 L802.03 481.97 L808.50 474.79 M803.27 458.93 L802.40 460.93 L803.01 463.34 L805.12 466.17 L806.66 467.55 L809.68 469.35 L812.15 469.71 L814.05 468.63 L814.97 467.61 L815.84 465.61 L815.23 463.19 L813.12 460.37 L811.58 458.98 L808.56 457.19 L806.09 456.83 L804.19 457.90 L803.27 458.93 M842.21 560.44 L841.73 558.97 L841.97 557.26 L843.19 555.56 L844.90 554.34 L846.61 554.09 L847.88 554.77 L848.56 556.04 L848.56 558.00 L847.44 559.80 M847.44 559.80 L849.20 558.63 L851.25 558.24 L853.20 558.73 L854.42 559.95 L854.91 561.41 L854.91 563.37 L853.93 565.32 L852.47 566.79 L850.51 567.76 L849.54 567.76 L848.07 567.27 M852.47 546.28 L851.49 548.23 L851.98 550.67 L853.93 553.60 L855.40 555.07 L858.33 557.02 L860.77 557.51 L862.72 556.53 L863.70 555.56 L864.67 553.60 L864.19 551.16 L862.23 548.23 L860.77 546.77 L857.84 544.81 L855.40 544.33 L853.44 545.30 L852.47 546.28" fill="none" stroke="#ffaa00" stroke-width="1.3" stroke-linejoin="round" style="shape-rendering:auto"/>
<path d="M79.17 167.93 L80.04 168.55 L81.97 169.14 L73.14 173.83 M72.24 172.15 L74.03 175.51 M85.99 176.71 L84.90 175.67 L83.19 175.50 L80.87 176.20 L79.60 176.87 L77.73 178.40 L76.91 179.92 L77.16 181.40 L77.61 182.24 L78.70 183.28 L80.41 183.45 L82.73 182.75 L84.00 182.08 L85.87 180.54 L86.69 179.03 L86.44 177.55 L85.99 176.71 M84.32 339.04 L83.11 338.14 L81.40 338.18 L79.17 339.16 L78.00 339.98 L76.33 341.73 L75.70 343.33 L76.13 344.78 L76.68 345.56 L77.89 346.46 L79.60 346.42 L81.83 345.44 L83.00 344.62 L84.67 342.87 L85.30 341.27 L84.87 339.82 L84.32 339.04 M73.43 494.97 L77.47 501.43 M82.97 503.05 L83.88 503.60 L85.84 504.06 L77.36 509.36 M76.36 507.74 L78.37 510.97 M90.39 511.33 L89.23 510.37 L87.51 510.32 L85.24 511.18 L84.03 511.93 L82.26 513.60 L81.55 515.16 L81.91 516.63 L82.41 517.43 L83.57 518.39 L85.29 518.44 L87.56 517.59 L88.77 516.83 L90.54 515.16 L91.24 513.60 L90.89 512.13 L90.39 511.33 M72.33 652.57 L76.37 659.03 M80.96 660.09 L81.36 659.84 L82.42 659.74 L83.08 659.89 L83.99 660.45 L85.00 662.06 L85.10 663.12 L84.95 663.78 L84.39 664.69 L83.58 665.19 L82.52 665.29 L80.81 665.24 L74.25 663.73 L77.78 669.38 M89.29 668.93 L88.13 667.97 L86.41 667.92 L84.14 668.78 L82.93 669.53 L81.16 671.20 L80.45 672.76 L80.81 674.23 L81.31 675.03 L82.47 675.99 L84.19 676.04 L86.46 675.19 L87.67 674.43 L89.44 672.76 L90.14 671.20 L89.79 669.73 L89.29 668.93 M72.02 814.44 L75.94 820.97 M80.93 821.86 L81.99 821.78 L83.09 822.23 L84.03 823.33 L84.56 824.68 L84.44 825.86 L83.77 826.60 L82.81 826.85 L81.50 826.52 L80.48 825.47 M80.48 825.47 L80.97 826.84 L80.89 828.28 L80.24 829.50 L79.22 830.11 L78.16 830.20 L76.85 829.87 L75.70 828.89 L74.97 827.67 L74.64 826.20 L74.80 825.54 L75.38 824.65 M88.69 831.09 L87.55 830.11 L85.83 830.03 L83.55 830.85 L82.32 831.58 L80.53 833.22 L79.79 834.77 L80.12 836.24 L80.61 837.06 L81.75 838.03 L83.47 838.11 L85.75 837.30 L86.98 836.56 L88.78 834.93 L89.51 833.37 L89.18 831.90 L88.69 831.09" fill="none" stroke="#ffaa00" stroke-width="1.2" stroke-linejoin="round" style="shape-rendering:auto"/>
<path d="M231.08 909.33 L231.09 908.21 L230.44 906.19 L239.79 910.96 M238.88 912.74 L240.70 909.18 M310.59 909.82 L310.14 909.60 L309.48 908.70 L309.26 908.03 L309.27 906.91 L310.18 905.13 L311.08 904.46 L311.75 904.24 L312.87 904.25 L313.76 904.71 L314.42 905.60 L315.30 907.18 L317.49 913.90 L320.67 907.66 M358.94 910.80 L358.28 909.90 L358.06 908.67 L358.52 907.22 L359.43 905.99 L360.55 905.44 L361.58 905.63 L362.33 906.35 L362.77 907.70 L362.40 909.19 M362.40 909.19 L363.35 907.99 L364.67 907.26 L366.13 907.16 L367.24 907.73 L367.90 908.63 L368.34 909.97 L368.10 911.54 L367.42 912.87 L366.30 913.98 L365.62 914.20 L364.51 914.19 M425.46 904.39 L423.19 908.84 L426.97 911.33 L426.75 910.66 L426.99 909.10 L427.67 907.76 L428.79 906.65 L430.14 906.21 L431.70 906.45 L432.59 906.90 L433.70 908.03 L434.14 909.37 L433.90 910.94 L433.22 912.27 L432.10 913.38 L431.42 913.60 L430.31 913.59 M487.37 907.91 L487.13 909.47 L487.80 910.37 L488.69 910.82 L489.81 910.83 L490.71 910.17 L492.06 908.61 L493.19 907.50 L494.53 907.07 L495.65 907.08 L496.98 907.76 L497.65 908.66 L497.87 909.33 L497.63 910.89 L496.72 912.67 L495.60 913.78 L494.92 914.00 L493.81 913.99 L492.47 913.31 L491.81 912.41 L491.37 911.07 L491.60 909.51 L492.07 907.50 L492.08 906.38 L491.41 905.48 L490.52 905.02 L489.40 905.02 L488.28 906.13 L487.37 907.91 M544.58 914.56 L544.53 913.44 L543.77 911.46 L553.36 915.73 M552.55 917.56 L554.17 913.90 M548.70 906.54 L548.24 906.34 L547.53 905.47 L547.28 904.81 L547.23 903.70 L548.04 901.87 L548.90 901.16 L549.56 900.90 L550.68 900.85 L551.59 901.26 L552.30 902.13 L553.27 903.65 L555.80 910.25 L558.65 903.86 M620.23 915.19 L619.78 914.99 L619.07 914.12 L618.81 913.46 L618.76 912.35 L619.58 910.52 L620.44 909.81 L621.10 909.56 L622.22 909.51 L623.13 909.91 L623.84 910.78 L624.80 912.30 L627.34 918.90 L630.19 912.51 M623.03 902.75 L622.88 904.33 L623.84 905.85 L625.92 907.32 L627.30 907.93 L629.78 908.49 L631.56 908.19 L632.63 907.02 L633.03 906.11 L633.19 904.54 L632.22 903.01 L630.14 901.54 L628.77 900.93 L626.28 900.37 L624.51 900.67 L623.44 901.84 L623.03 902.75" fill="none" stroke="#80dc00" stroke-width="1.2" stroke-linejoin="round" style="shape-rendering:auto"/>
<path d="M388 79 L381.9 102 L378.4 118 L377.1 126 L375.5 150 L373.9 174 L372.8 190 L371.5 214 L371.2 230 L371.6 240 L372 270 L373 300 L375 330 L377 353 L380 380 L383 400 L385.6 410 L390 430 L395 450 L400 470 L404 485 L409 502 L415 520 L421 538 L427 554 L433 570 L438 590 L443 610 L446 620 L452 640 L457 660 L461.4 684 L466 710 L472 736 L478 756 L484 774 L489 790 L492.5 800 L497 812 L502 821 L507 830 L510.5 838 L511.2 844 L510.5 849 L504.5 855 L498 857 L490 859 L485 861" fill="none" stroke="#ff0000" stroke-width="3" stroke-linejoin="round"/>
<circle cx="483.5" cy="864" r="4" fill="#ff0000"/>
<path d="M204.4 79 L202 96 L199 110 L196 126 L192 140 L184.4 162 L178 176 L170 194 L160 214 L147 238 L144 250 L140 262 L137.6 272 L140 284 L144 300 L149 318 L160 334 L172 352 L182 368 L194 382 L206 396 L219 413 L224 418 L250 448 L284 486 L310 515 L334 543 L358 568 L366 580 L380 596 L391 608 L403 628 L410 644 L413 660 L417 678 L419 696 L420.4 720 L421 740 L420.6 760 L420.3 789.8 L419.2 799.7 L418.6 808.5 L417 817.3 L415.3 825 L415.5 836 L417 844.8 L419.7 852.5 L425.2 857 L432.4 863.5" fill="none" stroke="#0a6eff" stroke-width="3" stroke-linejoin="round"/>
<circle cx="439" cy="863.8" r="4" fill="#0a6eff"/>
<path d="M815.5 74 V903" stroke="#000" stroke-width="1"/>
<path d="M815.5 79.4 L779.49 97.27 M794.18 89.98 l-3.66 -3.1" fill="none" stroke="#000" stroke-width="1"/>
<path d="M779.49 97.27 L775.54 89.3 L784.69 94.7 Z M784.69 94.7 L782.88 85.66 L792.03 91.05 Z" fill="#000" stroke="#000" stroke-width="0.8"/>
<path d="M815.5 125 L779.38 142.64 M794.11 135.44 l-3.64 -3.12" fill="none" stroke="#000" stroke-width="1"/>
<path d="M779.38 142.64 L775.47 134.64 L784.59 140.1 Z M784.59 140.1 L782.84 131.05 L791.96 136.5 Z" fill="#000" stroke="#000" stroke-width="0.8"/>
<path d="M815.5 166 L779.28 183.43" fill="none" stroke="#000" stroke-width="1"/>
<path d="M779.28 183.43 L775.42 175.41 L784.5 180.92 Z M784.5 180.92 L782.81 171.86 L791.89 177.36 Z" fill="#000" stroke="#000" stroke-width="0.8"/>
<path d="M815.5 203.2 L779.19 220.45 M786.59 216.93 l-8.72 -6.93 M789.8 215.4 l-8.72 -6.93 M793.01 213.88 l-8.72 -6.93 M796.21 212.36 l-8.72 -6.93 M799.42 210.84 l-3.6 -3.16" fill="none" stroke="#000" stroke-width="1"/>
<path d="M779.19 220.45 L775.37 212.41 L784.43 217.96 Z" fill="#000" stroke="#000" stroke-width="0.8"/>
<path d="M815.5 238.2 L779.37 255.82 M786.74 252.23 l-8.79 -6.84 M789.93 250.67 l-8.79 -6.84 M793.12 249.11 l-8.79 -6.84 M796.31 247.56 l-8.79 -6.84" fill="none" stroke="#000" stroke-width="1"/>
<path d="M779.37 255.82 L775.47 247.82 L784.58 253.28 Z" fill="#000" stroke="#000" stroke-width="0.8"/>
<path d="M815.5 274.3 L779.56 292.3 M786.89 288.63 l-8.86 -6.75 M790.06 287.04 l-8.86 -6.75 M793.24 285.45 l-8.86 -6.75 M796.41 283.86 l-3.67 -3.08" fill="none" stroke="#000" stroke-width="1"/>
<path d="M779.56 292.3 L775.57 284.34 L784.74 289.7 Z" fill="#000" stroke="#000" stroke-width="0.8"/>
<path d="M815.5 318.3 L779.59 336.36 M786.91 332.68 l-8.87 -6.73 M790.08 331.08 l-8.87 -6.73 M793.26 329.49 l-8.87 -6.73" fill="none" stroke="#000" stroke-width="1"/>
<path d="M779.59 336.36 L775.59 328.41 L784.77 333.76 Z" fill="#000" stroke="#000" stroke-width="0.8"/>
<path d="M815.5 368.2 L779.65 386.39 M786.96 382.68 l-8.89 -6.7 M790.13 381.07 l-8.89 -6.7" fill="none" stroke="#000" stroke-width="1"/>
<path d="M779.65 386.39 L775.62 378.45 L784.82 383.76 Z" fill="#000" stroke="#000" stroke-width="0.8"/>
<path d="M815.5 419.3 L779.52 437.23 M786.86 433.57 l-8.85 -6.77" fill="none" stroke="#000" stroke-width="1"/>
<path d="M779.52 437.23 L775.55 429.26 L784.71 434.64 Z" fill="#000" stroke="#000" stroke-width="0.8"/>
<path d="M815.5 468.8 L778.66 484.89 M786.18 481.61 l-3.5 -3.27" fill="none" stroke="#000" stroke-width="1"/>
<path d="M778.66 484.89 L775.1 476.74 L783.98 482.57 Z" fill="#000" stroke="#000" stroke-width="0.8"/>
<path d="M815.5 514.2 L778.86 530.74" fill="none" stroke="#000" stroke-width="1"/>
<path d="M778.86 530.74 L775.2 522.63 L784.15 528.36 Z" fill="#000" stroke="#000" stroke-width="0.8"/>
<path d="M815.5 552 L783.2 564.4 M783.2 564.4 L773.73 557.32 M785.35 563.58 l-8.16 -7.58 M788.8 562.25 l-8.16 -7.58 M792.25 560.92 l-8.16 -7.58 M795.71 559.6 l-3.35 -3.43" fill="none" stroke="#000" stroke-width="1"/>
<path d="M815.5 583.2 L782.88 594.73 M782.88 594.73 L773.61 587.4 M785.05 593.96 l-7.95 -7.8 M788.53 592.73 l-7.95 -7.8 M792.02 591.5 l-7.95 -7.8 M795.51 590.26 l-3.26 -3.52" fill="none" stroke="#000" stroke-width="1"/>
<path d="M815.5 608.3 L782.12 617.4 M782.12 617.4 L773.41 609.41 M784.34 616.8 l-7.36 -8.36 M787.91 615.83 l-7.36 -8.36 M791.48 614.85 l-7.36 -8.36" fill="none" stroke="#000" stroke-width="1"/>
<path d="M815.5 628 L781.71 635.43 M781.71 635.43 L773.41 627.02 M783.95 634.94 l-6.93 -8.71 M787.57 634.14 l-6.93 -8.71 M791.18 633.35 l-6.93 -8.71" fill="none" stroke="#000" stroke-width="1"/>
<path d="M815.5 644.7 L781.21 649.34 M781.21 649.34 L773.63 640.27 M783.49 649.03 l-6.2 -9.25 M787.16 648.53 l-6.2 -9.25 M790.82 648.04 l-6.2 -9.25" fill="none" stroke="#000" stroke-width="1"/>
<path d="M815.5 658.5 L781.09 662.12 M781.09 662.12 L773.78 652.83 M783.38 661.88 l-5.92 -9.43 M787.06 661.49 l-5.92 -9.43 M790.74 661.1 l-5.92 -9.43" fill="none" stroke="#000" stroke-width="1"/>
<path d="M815.5 672.6 L780.9 672.6 M780.9 672.6 L774.6 662.6 M783.2 672.6 l-4.9 -10 M786.9 672.6 l-4.9 -10 M790.6 672.6 l-4.9 -10" fill="none" stroke="#000" stroke-width="1"/>
<path d="M815.5 683.4 L780.91 682.8 M780.91 682.8 L774.78 672.69 M783.2 682.84 l-4.72 -10.08 M786.9 682.9 l-4.72 -10.08 M790.6 682.97 l-1.82 -4.43" fill="none" stroke="#000" stroke-width="1"/>
<path d="M815.5 695.7 L781.43 689.69 M781.43 689.69 L776.96 678.75 M783.69 690.09 l-3.09 -10.7 M787.33 690.73 l-3.09 -10.7 M790.98 691.38 l-1.11 -4.66" fill="none" stroke="#000" stroke-width="1"/>
<path d="M815.5 706.5 L782.08 697.54 M782.08 697.54 L778.58 686.26 M784.3 698.14 l-2.14 -10.93 M787.87 699.1 l-2.14 -10.93 M791.45 700.06 l-0.7 -4.74" fill="none" stroke="#000" stroke-width="1"/>
<path d="M815.5 717.5 L782.43 707.32 M782.43 707.32 L779.35 695.91 M784.63 707.99 l-1.74 -11 M788.17 709.08 l-1.74 -11 M791.7 710.17 l-0.52 -4.76" fill="none" stroke="#000" stroke-width="1"/>
<path d="M815.5 727.3 L782.79 716.04 M782.79 716.04 L780.08 704.53 M784.96 716.78 l-1.38 -11.05 M788.46 717.99 l-1.38 -11.05 M791.96 719.19 l-0.36 -4.78" fill="none" stroke="#000" stroke-width="1"/>
<path d="M815.5 736.8 L783.15 724.54 M783.15 724.54 L780.8 712.95 M785.3 725.35 l-1.04 -11.09 M788.76 726.66 l-1.04 -11.09 M792.22 727.97 l-0.22 -4.79" fill="none" stroke="#000" stroke-width="1"/>
<path d="M815.5 746.2 L783.53 732.96 M783.53 732.96 L781.54 721.31 M785.66 733.84 l-0.7 -11.11 M789.08 735.26 l-0.7 -11.11 M792.5 736.67 l-0.07 -4.79" fill="none" stroke="#000" stroke-width="1"/>
<path d="M815.5 754.6 L783.99 740.3 M783.99 740.3 L782.39 728.59 M786.09 741.25 l-0.33 -11.13 M789.46 742.78 l-0.33 -11.13 M792.83 744.31 l0.09 -4.79" fill="none" stroke="#000" stroke-width="1"/>
<path d="M815.5 763.7 L784.53 748.27 M784.53 748.27 L783.36 736.51 M786.59 749.29 l0.08 -11.14 M789.9 750.94 l0.08 -11.14 M793.21 752.59 l0.26 -4.79" fill="none" stroke="#000" stroke-width="1"/>
<path d="M815.5 772.5 L785.09 755.99 M785.09 755.99 L784.33 744.2 M787.11 757.09 l0.47 -11.13 M790.37 758.85 l0.47 -11.13 M793.62 760.62 l0.43 -4.77" fill="none" stroke="#000" stroke-width="1"/>
<path d="M815.5 780.6 L785.87 762.74 M785.87 762.74 L785.63 750.92 M787.84 763.93 l0.97 -11.09 M791.01 765.84 l0.97 -11.09 M794.17 767.75 l0.64 -4.75" fill="none" stroke="#000" stroke-width="1"/>
<path d="M815.5 788.5 L786.67 769.36 M786.67 769.36 L786.96 757.55 M788.59 770.63 l1.45 -11.04 M791.67 772.68 l1.45 -11.04 M794.76 774.73 l0.85 -4.72" fill="none" stroke="#000" stroke-width="1"/>
<path d="M815.5 796.3 L787.39 776.13 M787.39 776.13 L788.1 764.33 M789.26 777.47 l1.85 -10.98 M792.26 779.62 l1.85 -10.98 M795.27 781.78 l1.02 -4.68" fill="none" stroke="#000" stroke-width="1"/>
<path d="M815.5 803.6 L788.09 782.48 M788.09 782.48 L789.21 770.71 M789.91 783.89 l2.22 -10.91 M792.85 786.14 l2.22 -10.91 M795.78 788.4 l1.18 -4.65" fill="none" stroke="#000" stroke-width="1"/>
<path d="M815.5 811.8 L788.92 789.65 M788.92 789.65 L790.48 777.93 M790.69 791.12 l2.64 -10.82 M793.53 793.49 l2.64 -10.82 M796.37 795.86 l1.36 -4.6" fill="none" stroke="#000" stroke-width="1"/>
<path d="M815.5 819.5 L789.73 796.41 M789.73 796.41 L791.72 784.76 M791.45 797.94 l3.02 -10.72 M794.2 800.41 l3.02 -10.72 M796.96 802.88 l3.02 -10.72" fill="none" stroke="#000" stroke-width="1"/>
<path d="M815.5 827 L790.81 802.76 M790.81 802.76 L793.32 791.21 M792.45 804.37 l3.51 -10.57 M795.09 806.96 l3.51 -10.57 M797.73 809.56 l3.51 -10.57" fill="none" stroke="#000" stroke-width="1"/>
<path d="M815.5 834.5 L791.95 809.15 M791.95 809.15 L795 797.73 M793.52 810.83 l3.99 -10.4 M796.04 813.54 l3.99 -10.4 M798.56 816.25 l3.99 -10.4" fill="none" stroke="#000" stroke-width="1"/>
<path d="M815.5 842 L793.15 815.59 M793.15 815.59 L796.72 804.32 M794.64 817.34 l4.47 -10.2 M797.03 820.17 l4.47 -10.2 M799.42 822.99 l4.47 -10.2" fill="none" stroke="#000" stroke-width="1"/>
<path d="M815.5 849 L794.31 821.65 M794.31 821.65 L798.36 810.54 M795.72 823.47 l4.9 -10 M797.98 826.39 l4.9 -10 M800.25 829.32 l4.9 -10" fill="none" stroke="#000" stroke-width="1"/>
<path d="M815.5 855.5 L795.42 827.32 M795.42 827.32 L799.91 816.39 M796.76 829.19 l5.3 -9.79 M798.9 832.21 l5.3 -9.79 M801.05 835.22 l2.48 -4.1" fill="none" stroke="#000" stroke-width="1"/>
<path d="M815.5 862.5 L796.66 833.48 M796.66 833.48 L801.61 822.75" fill="none" stroke="#000" stroke-width="1"/>
<path d="M919 74 V924" stroke="#000" stroke-width="2"/>
<path d="M920 903.5 H930" stroke="#000" stroke-width="1"/>
<text x="941.5" y="909.9" font-size="19" fill="#000" font-weight="bold" textLength="10.2" lengthAdjust="spacingAndGlyphs">0</text>
<path d="M920 860.5 H930" stroke="#000" stroke-width="1"/>
<text x="941.5" y="866.8" font-size="19" fill="#000" font-weight="bold" textLength="10.2" lengthAdjust="spacingAndGlyphs">2</text>
<path d="M920 816.5 H930" stroke="#000" stroke-width="1"/>
<text x="941.5" y="823.09" font-size="19" fill="#000" font-weight="bold" textLength="10.2" lengthAdjust="spacingAndGlyphs">4</text>
<path d="M920 772.5 H930" stroke="#000" stroke-width="1"/>
<text x="941.5" y="778.77" font-size="19" fill="#000" font-weight="bold" textLength="10.2" lengthAdjust="spacingAndGlyphs">6</text>
<path d="M920 727.5 H930" stroke="#000" stroke-width="1"/>
<text x="941.5" y="733.8" font-size="19" fill="#000" font-weight="bold" textLength="10.2" lengthAdjust="spacingAndGlyphs">8</text>
<path d="M920 681.5 H930" stroke="#000" stroke-width="1"/>
<text x="941.5" y="688.18" font-size="19" fill="#000" font-weight="bold" textLength="20.6" lengthAdjust="spacingAndGlyphs">10</text>
<path d="M920 635.5 H930" stroke="#000" stroke-width="1"/>
<text x="941.5" y="641.87" font-size="19" fill="#000" font-weight="bold" textLength="20.6" lengthAdjust="spacingAndGlyphs">12</text>
<path d="M920 588.5 H930" stroke="#000" stroke-width="1"/>
<text x="941.5" y="594.87" font-size="19" fill="#000" font-weight="bold" textLength="20.6" lengthAdjust="spacingAndGlyphs">14</text>
<path d="M920 540.5 H930" stroke="#000" stroke-width="1"/>
<text x="941.5" y="547.14" font-size="19" fill="#000" font-weight="bold" textLength="20.6" lengthAdjust="spacingAndGlyphs">16</text>
<path d="M920 492.5 H930" stroke="#000" stroke-width="1"/>
<text x="941.5" y="498.68" font-size="19" fill="#000" font-weight="bold" textLength="20.6" lengthAdjust="spacingAndGlyphs">18</text>
<path d="M920 442.5 H930" stroke="#000" stroke-width="1"/>
<text x="941.5" y="449.44" font-size="19" fill="#000" font-weight="bold" textLength="20.6" lengthAdjust="spacingAndGlyphs">20</text>
<path d="M920 392.5 H930" stroke="#000" stroke-width="1"/>
<text x="941.5" y="399.42" font-size="19" fill="#000" font-weight="bold" textLength="20.6" lengthAdjust="spacingAndGlyphs">22</text>
<path d="M920 341.5 H930" stroke="#000" stroke-width="1"/>
<text x="941.5" y="348.58" font-size="19" fill="#000" font-weight="bold" textLength="20.6" lengthAdjust="spacingAndGlyphs">24</text>
<path d="M920 290.5 H930" stroke="#000" stroke-width="1"/>
<text x="941.5" y="296.89" font-size="19" fill="#000" font-weight="bold" textLength="20.6" lengthAdjust="spacingAndGlyphs">26</text>
<path d="M920 237.5 H930" stroke="#000" stroke-width="1"/>
<text x="941.5" y="244.33" font-size="19" fill="#000" font-weight="bold" textLength="20.6" lengthAdjust="spacingAndGlyphs">28</text>
<path d="M920 184.5 H930" stroke="#000" stroke-width="1"/>
<text x="941.5" y="190.87" font-size="19" fill="#000" font-weight="bold" textLength="20.6" lengthAdjust="spacingAndGlyphs">30</text>
<path d="M920 129.5 H930" stroke="#000" stroke-width="1"/>
<text x="941.5" y="136.47" font-size="19" fill="#000" font-weight="bold" textLength="20.6" lengthAdjust="spacingAndGlyphs">32</text>
<circle cx="49" cy="42.5" r="4.6" fill="#000"/>
<text x="61.5" y="50.8" font-size="24.4" fill="#000" textLength="115" lengthAdjust="spacingAndGlyphs" stroke="#000" stroke-width="0.7">NirasakiGP</text>
<text x="185" y="47.6" font-size="15" fill="#000" textLength="170" lengthAdjust="spacingAndGlyphs" stroke="#000" stroke-width="0.45">35.6883°,138.469° (41,28)</text>
<text x="377.5" y="50.8" font-size="24.4" fill="#000" textLength="152.5" lengthAdjust="spacingAndGlyphs" stroke="#000" stroke-width="0.7">Valid 1500 JST</text>
<text x="540" y="48.5" font-size="15.5" fill="#000" textLength="60" lengthAdjust="spacingAndGlyphs" stroke="#000" stroke-width="0.35">(0600Z)</text>
<text x="609" y="50.8" font-size="24.4" fill="#000" textLength="185.2" lengthAdjust="spacingAndGlyphs" stroke="#000" stroke-width="0.7">MON 18 Jan 2016</text>
<text x="802.5" y="48.6" font-size="17.5" fill="#000" textLength="142.3" lengthAdjust="spacingAndGlyphs" stroke="#000" stroke-width="0.4">[12hrFcst@2320z]</text>
<text x="338.8" y="70.6" font-size="15" fill="#b0003c" font-weight="bold" textLength="312.6" lengthAdjust="spacingAndGlyphs">Plcl=877 Tlcl[C]=1 Shox=6 Pwat[cm]=1 Cape[J]= 0</text>
<text x="60.3" y="71.7" font-size="13.4" fill="#00b000" font-weight="bold" textLength="19.4" lengthAdjust="spacingAndGlyphs">0.0</text>
<text x="60.3" y="88.5" font-size="13.4" fill="#000" font-weight="bold" textLength="19.4" lengthAdjust="spacingAndGlyphs">0.0</text>
<text x="94.9" y="71.7" font-size="13.4" fill="#00b000" font-weight="bold" textLength="19.4" lengthAdjust="spacingAndGlyphs">0.5</text>
<text x="94.9" y="88.5" font-size="13.4" fill="#000" font-weight="bold" textLength="19.4" lengthAdjust="spacingAndGlyphs">0.5</text>
<text x="130.1" y="71.7" font-size="13.4" fill="#00b000" font-weight="bold" textLength="17.9" lengthAdjust="spacingAndGlyphs">1.0</text>
<text x="130.1" y="88.5" font-size="13.4" fill="#000" font-weight="bold" textLength="17.9" lengthAdjust="spacingAndGlyphs">1.0</text>
<text x="60.3" y="923" font-size="13.4" fill="#00b000" font-weight="bold" textLength="19.4" lengthAdjust="spacingAndGlyphs">0.0</text>
<text x="60.3" y="938.7" font-size="13.4" fill="#000" font-weight="bold" textLength="19.4" lengthAdjust="spacingAndGlyphs">0.0</text>
<text x="94.9" y="923" font-size="13.4" fill="#00b000" font-weight="bold" textLength="19.4" lengthAdjust="spacingAndGlyphs">0.5</text>
<text x="94.9" y="938.7" font-size="13.4" fill="#000" font-weight="bold" textLength="19.4" lengthAdjust="spacingAndGlyphs">0.5</text>
<text x="130.1" y="923" font-size="13.4" fill="#00b000" font-weight="bold" textLength="17.9" lengthAdjust="spacingAndGlyphs">1.0</text>
<text x="130.1" y="938.7" font-size="13.4" fill="#000" font-weight="bold" textLength="17.9" lengthAdjust="spacingAndGlyphs">1.0</text>
<text x="157" y="923" font-size="14.5" fill="#00b000" font-weight="bold" textLength="115" lengthAdjust="spacingAndGlyphs">CloudWater (g/Kg)</text>
<text x="157" y="938.7" font-size="14.5" fill="#000" font-weight="bold" textLength="139" lengthAdjust="spacingAndGlyphs">Grid-Scale Cloudiness</text>
<text x="56" y="81.34" font-size="19" fill="#000" font-weight="bold" textLength="31" lengthAdjust="spacingAndGlyphs" text-anchor="end">250</text>
<text x="56" y="189.31" font-size="19" fill="#000" font-weight="bold" textLength="31" lengthAdjust="spacingAndGlyphs" text-anchor="end">300</text>
<text x="56" y="359.67" font-size="19" fill="#000" font-weight="bold" textLength="31" lengthAdjust="spacingAndGlyphs" text-anchor="end">400</text>
<text x="56" y="491.82" font-size="19" fill="#000" font-weight="bold" textLength="31" lengthAdjust="spacingAndGlyphs" text-anchor="end">500</text>
<text x="56" y="691.08" font-size="19" fill="#000" font-weight="bold" textLength="31" lengthAdjust="spacingAndGlyphs" text-anchor="end">700</text>
<text x="56" y="806.06" font-size="19" fill="#000" font-weight="bold" textLength="31" lengthAdjust="spacingAndGlyphs" text-anchor="end">850</text>
<text x="56" y="902.3" font-size="19" fill="#000" font-weight="bold" textLength="40.3" lengthAdjust="spacingAndGlyphs" text-anchor="end">1000</text>
<text x="22.5" y="548" font-size="18.5" fill="#000" textLength="56" lengthAdjust="spacingAndGlyphs" transform="rotate(-90 22.5 548)">P (hPa)</text>
<text x="103.91" y="961.6" font-size="17" fill="#000" font-weight="bold" text-anchor="middle">-30</text>
<text x="197.34" y="961.6" font-size="17" fill="#000" font-weight="bold" text-anchor="middle">-20</text>
<text x="290.77" y="961.6" font-size="17" fill="#000" font-weight="bold" text-anchor="middle">-10</text>
<text x="384.2" y="961.6" font-size="17" fill="#000" font-weight="bold" text-anchor="middle">0</text>
<text x="477.63" y="961.6" font-size="17" fill="#000" font-weight="bold" text-anchor="middle">10</text>
<text x="571.06" y="961.6" font-size="17" fill="#000" font-weight="bold" text-anchor="middle">20</text>
<text x="664.49" y="961.6" font-size="17" fill="#000" font-weight="bold" text-anchor="middle">30</text>
<text x="757.92" y="961.6" font-size="17" fill="#000" font-weight="bold" text-anchor="middle">40</text>
<text x="431.2" y="985.6" font-size="17" fill="#000" font-weight="bold" textLength="126.4" lengthAdjust="spacingAndGlyphs">Temperature (C)</text>
<text x="815.5" y="90.3" font-size="14" fill="#ff0000" font-weight="bold" text-anchor="middle">0</text>
<text x="815.5" y="923.2" font-size="14" fill="#ff0000" font-weight="bold" text-anchor="middle">0</text>
<text x="867.3" y="90.3" font-size="14" fill="#ff0000" font-weight="bold" text-anchor="middle">40</text>
<text x="867.3" y="923.2" font-size="14" fill="#ff0000" font-weight="bold" text-anchor="middle">40</text>
<text x="919.2" y="90.3" font-size="14" fill="#ff0000" font-weight="bold" text-anchor="middle">80</text>
<text x="919.2" y="923.2" font-size="14" fill="#ff0000" font-weight="bold" text-anchor="middle">80</text>
<text x="971.1" y="90.3" font-size="14" fill="#ff0000" font-weight="bold" text-anchor="middle">120</text>
<text x="971.1" y="923.2" font-size="14" fill="#ff0000" font-weight="bold" text-anchor="middle">120</text>
<text x="837" y="939" font-size="14.5" fill="#ff0000" font-weight="bold" textLength="64" lengthAdjust="spacingAndGlyphs">Speed (kt)</text>
<text x="885" y="419.5" font-size="19.5" fill="#000" textLength="160" lengthAdjust="spacingAndGlyphs" transform="rotate(90 885 419.5)">Height (1000 Feet)</text>
<path d="M953.6 78.1 L951.5 88 L950.4 129.8 L942.6 184.4 L932.2 239 L919.2 306.6 L914 330 L908 357.8 L894.4 419 L884.2 487 L874 558.5 L869 606 L867.7 620 L867.2 643.4 L864.6 672 L862 698 L860.7 724 L860 750 L860 776 L860.7 802 L864.6 817.6 L867.7 828 L869.3 838.4 L867.2 848.8 L862 855.3 L849 859.2 L825.6 863.1" fill="none" stroke="#ff0000" stroke-width="1"/>
<path d="M70 78 V864" stroke="#00b000" stroke-width="2"/>
</svg>
</body></html>
